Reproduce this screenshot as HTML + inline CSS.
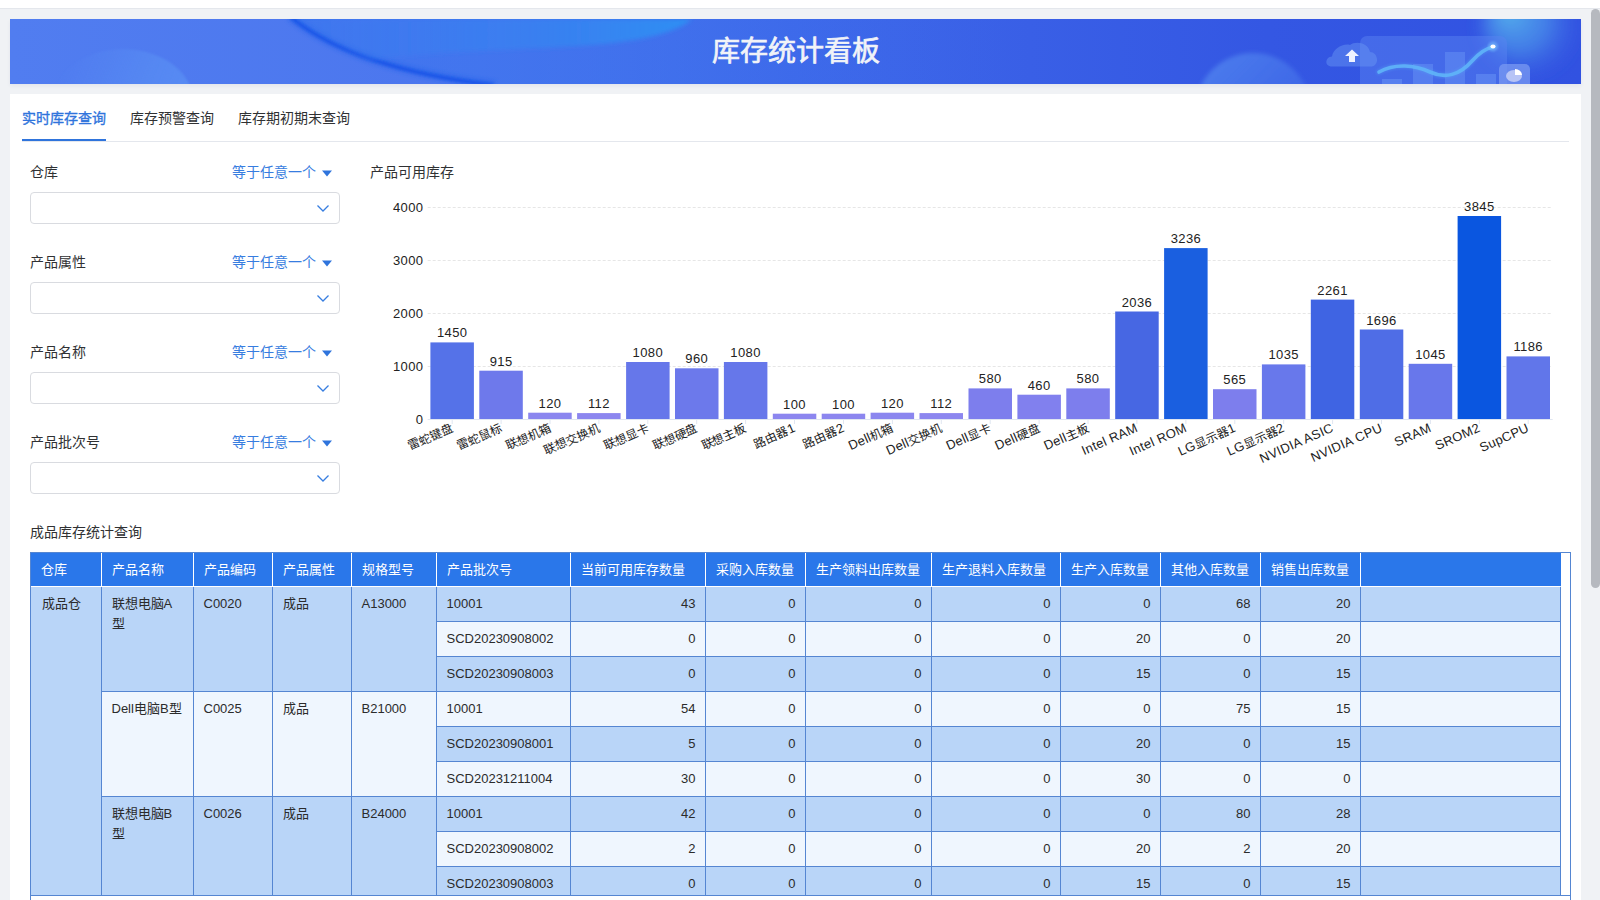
<!DOCTYPE html>
<html lang="zh-CN"><head><meta charset="utf-8"><title>库存统计看板</title>
<style>
html,body{margin:0;padding:0;}
body{width:1600px;height:900px;overflow:hidden;position:relative;background:#f0f2f5;font-family:"Liberation Sans", sans-serif;color:#303133;}
.abs{position:absolute;}
.c{position:absolute;box-sizing:border-box;font-size:13px;color:#2b2b2b;line-height:20px;padding:0 10px;}
.c.middle{display:flex;align-items:center;}
.c.right{justify-content:flex-end;}
.c.top{padding-top:8px;}
.h{position:absolute;box-sizing:border-box;background:#2a77ea;color:#fff;font-size:13px;padding:0 10px 2px 10px;display:flex;align-items:center;}
.lbl{position:absolute;font-size:14px;line-height:20px;color:#303133;}
.op{position:absolute;font-size:14px;line-height:20px;color:#377de0;}
.inp{position:absolute;width:310px;height:32px;box-sizing:border-box;border:1px solid #d9dbe0;border-radius:4px;background:#fff;}
</style></head>
<body>
<div class="abs" style="left:0;top:0;width:1600px;height:8px;background:#fff;border-bottom:1px solid #e4e7ec;"></div>
<div class="abs" id="banner" style="left:10px;top:19px;width:1571px;height:65px;overflow:hidden;box-shadow:0 2px 4px rgba(30,40,80,0.06);background:linear-gradient(90deg,#517df0 0%,#4470eb 40%,#3460e6 65%,#2f56e0 100%);">
  <svg width="1571" height="65" style="position:absolute;left:0;top:0">
<defs>
<linearGradient id="bg" x1="0" x2="1" y1="0" y2="0">
<stop offset="0" stop-color="#517df0"/><stop offset="0.3" stop-color="#4b76ee"/><stop offset="0.5" stop-color="#3e67e9"/><stop offset="0.8" stop-color="#3457e3"/><stop offset="1" stop-color="#3152e1"/>
</linearGradient>
<radialGradient id="g1" cx="0.5" cy="0.5" r="0.5"><stop offset="0" stop-color="#36a0f5" stop-opacity="0.9"/><stop offset="1" stop-color="#36a0f5" stop-opacity="0"/></radialGradient>
<radialGradient id="g2" cx="0.5" cy="0.5" r="0.5"><stop offset="0" stop-color="#5aa8f0" stop-opacity="0.95"/><stop offset="0.6" stop-color="#4a8cec" stop-opacity="0.4"/><stop offset="1" stop-color="#3a70e8" stop-opacity="0"/></radialGradient>
<linearGradient id="lc" x1="0" x2="1" y1="0" y2="0.3"><stop offset="0.1" stop-color="#5a90f4" stop-opacity="0"/><stop offset="0.7" stop-color="#5a90f4" stop-opacity="0.8"/><stop offset="1" stop-color="#5a90f4" stop-opacity="1"/></linearGradient>
<linearGradient id="ell" x1="0" x2="1" y1="0" y2="0"><stop offset="0" stop-color="#3b74ee" stop-opacity="0.7"/><stop offset="0.5" stop-color="#3b74ee" stop-opacity="0.4"/><stop offset="1" stop-color="#3b74ee" stop-opacity="0"/></linearGradient>
<filter id="bl2"><feGaussianBlur stdDeviation="2"/></filter>
<filter id="bl1"><feGaussianBlur stdDeviation="0.8"/></filter>
<filter id="bl6"><feGaussianBlur stdDeviation="6"/></filter>
</defs>
<rect width="1571" height="65" fill="url(#bg)"/>
<path d="M280 -2 Q 345 50 485 66 L 1000 66 L 1000 -2 Z" fill="url(#ell)"/>
<path d="M280 -2 Q 345 50 485 66" fill="none" stroke="#1f5ae8" stroke-width="7" filter="url(#bl2)" opacity="0.6"/>
<path d="M281 -2 Q 343 49 482 66" fill="none" stroke="#1a55e8" stroke-width="3" filter="url(#bl1)" opacity="0.9"/>
<linearGradient id="gl" gradientUnits="userSpaceOnUse" x1="300" x2="690" y1="0" y2="0"><stop offset="0" stop-color="#3a7cf0" stop-opacity="0.2"/><stop offset="0.6" stop-color="#3388f2" stop-opacity="0.6"/><stop offset="1" stop-color="#2d92f4" stop-opacity="0.95"/></linearGradient>
<path d="M284 0 L 682 0 C 668 12, 640 22, 570 27 C 480 32, 420 33, 360 41 Q 318 22 284 0 Z" fill="url(#gl)" filter="url(#bl2)"/>
<ellipse cx="113" cy="82" rx="70" ry="52" fill="url(#lc)" opacity="0.75" filter="url(#bl1)"/>
<linearGradient id="sc" x1="0" y1="0" x2="1" y2="1"><stop offset="0" stop-color="#4f82ee" stop-opacity="0.95"/><stop offset="0.6" stop-color="#4a7aec" stop-opacity="0.5"/><stop offset="1" stop-color="#4a7aec" stop-opacity="0"/></linearGradient>
<circle cx="1243" cy="92" r="58" fill="url(#sc)" filter="url(#bl2)"/>
<radialGradient id="g3" cx="0.5" cy="0.5" r="0.5" fx="0.3" fy="0.35"><stop offset="0" stop-color="#55b2ec" stop-opacity="1"/><stop offset="0.55" stop-color="#4a8fea" stop-opacity="0.7"/><stop offset="1" stop-color="#3a60e4" stop-opacity="0"/></radialGradient>
<circle cx="1518" cy="8" r="55" fill="url(#g3)" filter="url(#bl6)"/>
<g>
<rect x="1350" y="17" width="147" height="60" rx="7" fill="#5a86f2" opacity="0.45"/>
<rect x="1372" y="60" width="20" height="10" fill="#6a96f6" opacity="0.5"/>
<rect x="1403" y="45" width="20" height="25" fill="#6a96f6" opacity="0.45"/>
<rect x="1435" y="33" width="20" height="37" fill="#6a96f6" opacity="0.45"/>
<rect x="1466" y="55" width="20" height="15" fill="#6a96f6" opacity="0.5"/>
<path d="M1369 53 C 1385 44, 1405 46, 1420 53 C 1435 60, 1450 56, 1462 42 C 1470 33, 1478 29, 1483 28" fill="none" stroke="#5ab0f7" stroke-width="6" opacity="0.25" stroke-linecap="round" filter="url(#bl1)"/>
<path d="M1369 53 C 1385 44, 1405 46, 1420 53 C 1435 60, 1450 56, 1462 42 C 1470 33, 1478 29, 1483 28" fill="none" stroke="#5fb4f8" stroke-width="3.6" opacity="0.9" stroke-linecap="round"/>
<circle cx="1483" cy="27.5" r="5" fill="#7cc4ff" opacity="0.5" filter="url(#bl1)"/>
<ellipse cx="1483" cy="27.5" rx="2.6" ry="2" fill="#fff"/>
<path d="M1322 47.5 C 1314 47.5 1315 38 1322 37.5 C 1323 30 1333 24 1340 26 C 1345 22 1358 23 1360 33 C 1368 33 1370 46 1362 47.5 Z" fill="#6a9af4" opacity="0.45"/>
<path d="M1342 30.5 L1349 37 L1345 37 L1345 43 L1339 43 L1339 37 L1335 37 Z" fill="#eef2ff"/>
<rect x="1489" y="45" width="31" height="25" rx="5" fill="#7a9af2" opacity="0.75"/>
<ellipse cx="1504" cy="57" rx="8" ry="6" fill="#b7c4f6"/>
<path d="M1505 50 A 7 6 0 0 1 1512 56 L1505 56 Z" fill="#fff"/>
</g>
</svg>
  <div class="abs" style="left:0;top:0;width:100%;height:100%;font-size:28px;font-weight:400;color:#f1f3f8;-webkit-text-stroke:0.7px #f1f3f8;text-align:center;line-height:65px;">库存统计看板</div>
</div>
<div class="abs" id="card" style="left:10px;top:94px;width:1571px;height:820px;background:#fff;"></div>
<div class="abs" style="left:1591px;top:9px;width:9px;height:579px;background:#b6b9bf;border-radius:5px;"></div>

<div class="abs" style="left:22px;top:108px;font-size:14px;line-height:20px;color:#2f74dc;-webkit-text-stroke:0.35px #2f74dc;">实时库存查询</div>
<div class="abs" style="left:130px;top:108px;font-size:14px;line-height:20px;color:#303133;">库存预警查询</div>
<div class="abs" style="left:238px;top:108px;font-size:14px;line-height:20px;color:#303133;">库存期初期末查询</div>
<div class="abs" style="left:22px;top:141px;width:1547px;height:1px;background:#e4e7ed;"></div>
<div class="abs" style="left:22px;top:139px;width:84px;height:2px;background:#2f74dc;"></div>


<div class="lbl" style="left:30px;top:162px">仓库</div>
<div class="op" style="left:232px;top:162px">等于任意一个</div>
<svg style="position:absolute;left:321px;top:170px" width="12" height="8"><path d="M1 0.5 L11 0.5 L6 6.5 Z" fill="#2f74dc"/></svg>
<div class="inp" style="left:30px;top:192px"></div>
<svg style="position:absolute;left:316px;top:204px" width="14" height="10"><path d="M1.5 1.5 L7 7 L12.5 1.5" fill="none" stroke="#377de0" stroke-width="1.3"/></svg>

<div class="lbl" style="left:30px;top:252px">产品属性</div>
<div class="op" style="left:232px;top:252px">等于任意一个</div>
<svg style="position:absolute;left:321px;top:260px" width="12" height="8"><path d="M1 0.5 L11 0.5 L6 6.5 Z" fill="#2f74dc"/></svg>
<div class="inp" style="left:30px;top:282px"></div>
<svg style="position:absolute;left:316px;top:294px" width="14" height="10"><path d="M1.5 1.5 L7 7 L12.5 1.5" fill="none" stroke="#377de0" stroke-width="1.3"/></svg>

<div class="lbl" style="left:30px;top:342px">产品名称</div>
<div class="op" style="left:232px;top:342px">等于任意一个</div>
<svg style="position:absolute;left:321px;top:350px" width="12" height="8"><path d="M1 0.5 L11 0.5 L6 6.5 Z" fill="#2f74dc"/></svg>
<div class="inp" style="left:30px;top:372px"></div>
<svg style="position:absolute;left:316px;top:384px" width="14" height="10"><path d="M1.5 1.5 L7 7 L12.5 1.5" fill="none" stroke="#377de0" stroke-width="1.3"/></svg>

<div class="lbl" style="left:30px;top:432px">产品批次号</div>
<div class="op" style="left:232px;top:432px">等于任意一个</div>
<svg style="position:absolute;left:321px;top:440px" width="12" height="8"><path d="M1 0.5 L11 0.5 L6 6.5 Z" fill="#2f74dc"/></svg>
<div class="inp" style="left:30px;top:462px"></div>
<svg style="position:absolute;left:316px;top:474px" width="14" height="10"><path d="M1.5 1.5 L7 7 L12.5 1.5" fill="none" stroke="#377de0" stroke-width="1.3"/></svg>


<div class="abs" style="left:370px;top:162px;font-size:14px;line-height:20px;color:#303133;">产品可用库存</div>
<div class="abs" style="left:0;top:0;width:1600px;height:900px;font-family:"Liberation Sans", sans-serif;">
<svg width="1600" height="900" style="position:absolute;left:0;top:0">
<line x1="427.7" x2="1552.7" y1="366.5" y2="366.5" stroke="#e6e6e6" stroke-width="1" stroke-dasharray="3 2"/>
<line x1="427.7" x2="1552.7" y1="313.5" y2="313.5" stroke="#e6e6e6" stroke-width="1" stroke-dasharray="3 2"/>
<line x1="427.7" x2="1552.7" y1="260.5" y2="260.5" stroke="#e6e6e6" stroke-width="1" stroke-dasharray="3 2"/>
<line x1="427.7" x2="1552.7" y1="207.5" y2="207.5" stroke="#e6e6e6" stroke-width="1" stroke-dasharray="3 2"/>
<text x="423.5" y="423.5" text-anchor="end" font-size="13" letter-spacing="0.4" fill="#222">0</text>
<text x="423.5" y="370.7" text-anchor="end" font-size="13" letter-spacing="0.4" fill="#222">1000</text>
<text x="423.5" y="317.9" text-anchor="end" font-size="13" letter-spacing="0.4" fill="#222">2000</text>
<text x="423.5" y="265.1" text-anchor="end" font-size="13" letter-spacing="0.4" fill="#222">3000</text>
<text x="423.5" y="212.3" text-anchor="end" font-size="13" letter-spacing="0.4" fill="#222">4000</text>
<rect x="430.4" y="342.4" width="43.5" height="76.6" fill="#5572e8"/>
<text x="452.2" y="337.4" text-anchor="middle" font-size="13" letter-spacing="0.4" fill="#222">1450</text>
<rect x="479.3" y="370.7" width="43.5" height="48.3" fill="#6e79eb"/>
<text x="501.1" y="365.7" text-anchor="middle" font-size="13" letter-spacing="0.4" fill="#222">915</text>
<rect x="528.2" y="412.7" width="43.5" height="6.3" fill="#8b86ef"/>
<text x="550.0" y="407.7" text-anchor="middle" font-size="13" letter-spacing="0.4" fill="#222">120</text>
<rect x="577.1" y="413.1" width="43.5" height="5.9" fill="#8c86ef"/>
<text x="598.9" y="408.1" text-anchor="middle" font-size="13" letter-spacing="0.4" fill="#222">112</text>
<rect x="626.1" y="362.0" width="43.5" height="57.0" fill="#6677ea"/>
<text x="647.8" y="357.0" text-anchor="middle" font-size="13" letter-spacing="0.4" fill="#222">1080</text>
<rect x="675.0" y="368.3" width="43.5" height="50.7" fill="#6c79eb"/>
<text x="696.7" y="363.3" text-anchor="middle" font-size="13" letter-spacing="0.4" fill="#222">960</text>
<rect x="723.9" y="362.0" width="43.5" height="57.0" fill="#6677ea"/>
<text x="745.6" y="357.0" text-anchor="middle" font-size="13" letter-spacing="0.4" fill="#222">1080</text>
<rect x="772.8" y="413.7" width="43.5" height="5.3" fill="#8c86ef"/>
<text x="794.5" y="408.7" text-anchor="middle" font-size="13" letter-spacing="0.4" fill="#222">100</text>
<rect x="821.7" y="413.7" width="43.5" height="5.3" fill="#8c86ef"/>
<text x="843.5" y="408.7" text-anchor="middle" font-size="13" letter-spacing="0.4" fill="#222">100</text>
<rect x="870.6" y="412.7" width="43.5" height="6.3" fill="#8b86ef"/>
<text x="892.4" y="407.7" text-anchor="middle" font-size="13" letter-spacing="0.4" fill="#222">120</text>
<rect x="919.5" y="413.1" width="43.5" height="5.9" fill="#8c86ef"/>
<text x="941.3" y="408.1" text-anchor="middle" font-size="13" letter-spacing="0.4" fill="#222">112</text>
<rect x="968.5" y="388.4" width="43.5" height="30.6" fill="#7d7eed"/>
<text x="990.2" y="383.4" text-anchor="middle" font-size="13" letter-spacing="0.4" fill="#222">580</text>
<rect x="1017.4" y="394.7" width="43.5" height="24.3" fill="#8180ee"/>
<text x="1039.1" y="389.7" text-anchor="middle" font-size="13" letter-spacing="0.4" fill="#222">460</text>
<rect x="1066.3" y="388.4" width="43.5" height="30.6" fill="#7d7eed"/>
<text x="1088.0" y="383.4" text-anchor="middle" font-size="13" letter-spacing="0.4" fill="#222">580</text>
<rect x="1115.2" y="311.5" width="43.5" height="107.5" fill="#4767e3"/>
<text x="1136.9" y="306.5" text-anchor="middle" font-size="13" letter-spacing="0.4" fill="#222">2036</text>
<rect x="1164.1" y="248.1" width="43.5" height="170.9" fill="#1a5fe0"/>
<text x="1185.9" y="243.1" text-anchor="middle" font-size="13" letter-spacing="0.4" fill="#222">3236</text>
<rect x="1213.0" y="389.2" width="43.5" height="29.8" fill="#7d7eed"/>
<text x="1234.8" y="384.2" text-anchor="middle" font-size="13" letter-spacing="0.4" fill="#222">565</text>
<rect x="1261.9" y="364.4" width="43.5" height="54.6" fill="#6878eb"/>
<text x="1283.7" y="359.4" text-anchor="middle" font-size="13" letter-spacing="0.4" fill="#222">1035</text>
<rect x="1310.8" y="299.6" width="43.5" height="119.4" fill="#3f64e3"/>
<text x="1332.6" y="294.6" text-anchor="middle" font-size="13" letter-spacing="0.4" fill="#222">2261</text>
<rect x="1359.8" y="329.5" width="43.5" height="89.5" fill="#4f6de6"/>
<text x="1381.5" y="324.5" text-anchor="middle" font-size="13" letter-spacing="0.4" fill="#222">1696</text>
<rect x="1408.7" y="363.8" width="43.5" height="55.2" fill="#6877eb"/>
<text x="1430.4" y="358.8" text-anchor="middle" font-size="13" letter-spacing="0.4" fill="#222">1045</text>
<rect x="1457.6" y="216.0" width="43.5" height="203.0" fill="#0a56e0"/>
<text x="1479.3" y="211.0" text-anchor="middle" font-size="13" letter-spacing="0.4" fill="#222">3845</text>
<rect x="1506.5" y="356.4" width="43.5" height="62.6" fill="#6176ea"/>
<text x="1528.2" y="351.4" text-anchor="middle" font-size="13" letter-spacing="0.4" fill="#222">1186</text>
<line x1="427.7" x2="1552.7" y1="419.5" y2="419.5" stroke="#e0e6f1" stroke-width="1"/>
<line x1="452.2" x2="452.2" y1="419.0" y2="424.0" stroke="#e0e6f1" stroke-width="1"/>
<text transform="translate(452.2,427.0) rotate(-24)" text-anchor="end" dy="0.36em" font-size="12" fill="#222">雷蛇键盘</text>
<line x1="501.1" x2="501.1" y1="419.0" y2="424.0" stroke="#e0e6f1" stroke-width="1"/>
<text transform="translate(501.1,427.0) rotate(-24)" text-anchor="end" dy="0.36em" font-size="12" fill="#222">雷蛇鼠标</text>
<line x1="550.0" x2="550.0" y1="419.0" y2="424.0" stroke="#e0e6f1" stroke-width="1"/>
<text transform="translate(550.0,427.0) rotate(-24)" text-anchor="end" dy="0.36em" font-size="12" fill="#222">联想机箱</text>
<line x1="598.9" x2="598.9" y1="419.0" y2="424.0" stroke="#e0e6f1" stroke-width="1"/>
<text transform="translate(598.9,427.0) rotate(-24)" text-anchor="end" dy="0.36em" font-size="12" fill="#222">联想交换机</text>
<line x1="647.8" x2="647.8" y1="419.0" y2="424.0" stroke="#e0e6f1" stroke-width="1"/>
<text transform="translate(647.8,427.0) rotate(-24)" text-anchor="end" dy="0.36em" font-size="12" fill="#222">联想显卡</text>
<line x1="696.7" x2="696.7" y1="419.0" y2="424.0" stroke="#e0e6f1" stroke-width="1"/>
<text transform="translate(696.7,427.0) rotate(-24)" text-anchor="end" dy="0.36em" font-size="12" fill="#222">联想硬盘</text>
<line x1="745.6" x2="745.6" y1="419.0" y2="424.0" stroke="#e0e6f1" stroke-width="1"/>
<text transform="translate(745.6,427.0) rotate(-24)" text-anchor="end" dy="0.36em" font-size="12" fill="#222">联想主板</text>
<line x1="794.5" x2="794.5" y1="419.0" y2="424.0" stroke="#e0e6f1" stroke-width="1"/>
<text transform="translate(794.5,427.0) rotate(-24)" text-anchor="end" dy="0.36em" font-size="12" fill="#222">路由器<tspan font-size="13" letter-spacing="0.3">1</tspan></text>
<line x1="843.5" x2="843.5" y1="419.0" y2="424.0" stroke="#e0e6f1" stroke-width="1"/>
<text transform="translate(843.5,427.0) rotate(-24)" text-anchor="end" dy="0.36em" font-size="12" fill="#222">路由器<tspan font-size="13" letter-spacing="0.3">2</tspan></text>
<line x1="892.4" x2="892.4" y1="419.0" y2="424.0" stroke="#e0e6f1" stroke-width="1"/>
<text transform="translate(892.4,427.0) rotate(-24)" text-anchor="end" dy="0.36em" font-size="12" fill="#222"><tspan font-size="13" letter-spacing="0.3">Dell</tspan>机箱</text>
<line x1="941.3" x2="941.3" y1="419.0" y2="424.0" stroke="#e0e6f1" stroke-width="1"/>
<text transform="translate(941.3,427.0) rotate(-24)" text-anchor="end" dy="0.36em" font-size="12" fill="#222"><tspan font-size="13" letter-spacing="0.3">Dell</tspan>交换机</text>
<line x1="990.2" x2="990.2" y1="419.0" y2="424.0" stroke="#e0e6f1" stroke-width="1"/>
<text transform="translate(990.2,427.0) rotate(-24)" text-anchor="end" dy="0.36em" font-size="12" fill="#222"><tspan font-size="13" letter-spacing="0.3">Dell</tspan>显卡</text>
<line x1="1039.1" x2="1039.1" y1="419.0" y2="424.0" stroke="#e0e6f1" stroke-width="1"/>
<text transform="translate(1039.1,427.0) rotate(-24)" text-anchor="end" dy="0.36em" font-size="12" fill="#222"><tspan font-size="13" letter-spacing="0.3">Dell</tspan>硬盘</text>
<line x1="1088.0" x2="1088.0" y1="419.0" y2="424.0" stroke="#e0e6f1" stroke-width="1"/>
<text transform="translate(1088.0,427.0) rotate(-24)" text-anchor="end" dy="0.36em" font-size="12" fill="#222"><tspan font-size="13" letter-spacing="0.3">Dell</tspan>主板</text>
<line x1="1136.9" x2="1136.9" y1="419.0" y2="424.0" stroke="#e0e6f1" stroke-width="1"/>
<text transform="translate(1136.9,427.0) rotate(-24)" text-anchor="end" dy="0.36em" font-size="12" fill="#222"><tspan font-size="13" letter-spacing="0.3">Intel RAM</tspan></text>
<line x1="1185.9" x2="1185.9" y1="419.0" y2="424.0" stroke="#e0e6f1" stroke-width="1"/>
<text transform="translate(1185.9,427.0) rotate(-24)" text-anchor="end" dy="0.36em" font-size="12" fill="#222"><tspan font-size="13" letter-spacing="0.3">Intel ROM</tspan></text>
<line x1="1234.8" x2="1234.8" y1="419.0" y2="424.0" stroke="#e0e6f1" stroke-width="1"/>
<text transform="translate(1234.8,427.0) rotate(-24)" text-anchor="end" dy="0.36em" font-size="12" fill="#222"><tspan font-size="13" letter-spacing="0.3">LG</tspan>显示器<tspan font-size="13" letter-spacing="0.3">1</tspan></text>
<line x1="1283.7" x2="1283.7" y1="419.0" y2="424.0" stroke="#e0e6f1" stroke-width="1"/>
<text transform="translate(1283.7,427.0) rotate(-24)" text-anchor="end" dy="0.36em" font-size="12" fill="#222"><tspan font-size="13" letter-spacing="0.3">LG</tspan>显示器<tspan font-size="13" letter-spacing="0.3">2</tspan></text>
<line x1="1332.6" x2="1332.6" y1="419.0" y2="424.0" stroke="#e0e6f1" stroke-width="1"/>
<text transform="translate(1332.6,427.0) rotate(-24)" text-anchor="end" dy="0.36em" font-size="12" fill="#222"><tspan font-size="13" letter-spacing="0.3">NVIDIA ASIC</tspan></text>
<line x1="1381.5" x2="1381.5" y1="419.0" y2="424.0" stroke="#e0e6f1" stroke-width="1"/>
<text transform="translate(1381.5,427.0) rotate(-24)" text-anchor="end" dy="0.36em" font-size="12" fill="#222"><tspan font-size="13" letter-spacing="0.3">NVIDIA CPU</tspan></text>
<line x1="1430.4" x2="1430.4" y1="419.0" y2="424.0" stroke="#e0e6f1" stroke-width="1"/>
<text transform="translate(1430.4,427.0) rotate(-24)" text-anchor="end" dy="0.36em" font-size="12" fill="#222"><tspan font-size="13" letter-spacing="0.3">SRAM</tspan></text>
<line x1="1479.3" x2="1479.3" y1="419.0" y2="424.0" stroke="#e0e6f1" stroke-width="1"/>
<text transform="translate(1479.3,427.0) rotate(-24)" text-anchor="end" dy="0.36em" font-size="12" fill="#222"><tspan font-size="13" letter-spacing="0.3">SROM2</tspan></text>
<line x1="1528.2" x2="1528.2" y1="419.0" y2="424.0" stroke="#e0e6f1" stroke-width="1"/>
<text transform="translate(1528.2,427.0) rotate(-24)" text-anchor="end" dy="0.36em" font-size="12" fill="#222"><tspan font-size="13" letter-spacing="0.3">SupCPU</tspan></text>
</svg>
</div>

<div class="abs" style="left:30px;top:522px;font-size:14px;line-height:20px;color:#303133;">成品库存统计查询</div>
<div class="abs" style="left:30px;top:552px;width:1541px;height:400px;box-sizing:border-box;border:1px solid #5586d2;background:#fff;"></div>
<div class="abs" style="left:0;top:0;width:1600px;height:895px;overflow:hidden;">
<div class="h" style="left:30.5px;top:552px;width:71.0px;height:34px;">仓库</div>
<div class="h" style="left:101.5px;top:552px;width:92.0px;height:34px;">产品名称</div>
<div class="h" style="left:193.5px;top:552px;width:79.0px;height:34px;">产品编码</div>
<div class="h" style="left:272.5px;top:552px;width:79.0px;height:34px;">产品属性</div>
<div class="h" style="left:351.5px;top:552px;width:85.0px;height:34px;">规格型号</div>
<div class="h" style="left:436.5px;top:552px;width:134.0px;height:34px;">产品批次号</div>
<div class="h" style="left:570.5px;top:552px;width:135.0px;height:34px;">当前可用库存数量</div>
<div class="h" style="left:705.5px;top:552px;width:100.0px;height:34px;">采购入库数量</div>
<div class="h" style="left:805.5px;top:552px;width:126.0px;height:34px;">生产领料出库数量</div>
<div class="h" style="left:931.5px;top:552px;width:129.0px;height:34px;">生产退料入库数量</div>
<div class="h" style="left:1060.5px;top:552px;width:100.0px;height:34px;">生产入库数量</div>
<div class="h" style="left:1160.5px;top:552px;width:100.0px;height:34px;">其他入库数量</div>
<div class="h" style="left:1260.5px;top:552px;width:100.0px;height:34px;">销售出库数量</div>
<div class="h" style="left:1360.5px;top:552px;width:200.0px;height:34px;"></div>
<div class="c left top" style="left:101.5px;top:586px;width:92.0px;height:105px;background:#b9d5f8;">联想电脑A<br>型</div>
<div class="c left top" style="left:193.5px;top:586px;width:79.0px;height:105px;background:#b9d5f8;">C0020</div>
<div class="c left top" style="left:272.5px;top:586px;width:79.0px;height:105px;background:#b9d5f8;">成品</div>
<div class="c left top" style="left:351.5px;top:586px;width:85.0px;height:105px;background:#b9d5f8;">A13000</div>
<div class="c left middle" style="left:436.5px;top:586px;width:134.0px;height:35px;background:#b9d5f8;">10001</div>
<div class="c right middle" style="left:570.5px;top:586px;width:135.0px;height:35px;background:#b9d5f8;">43</div>
<div class="c right middle" style="left:705.5px;top:586px;width:100.0px;height:35px;background:#b9d5f8;">0</div>
<div class="c right middle" style="left:805.5px;top:586px;width:126.0px;height:35px;background:#b9d5f8;">0</div>
<div class="c right middle" style="left:931.5px;top:586px;width:129.0px;height:35px;background:#b9d5f8;">0</div>
<div class="c right middle" style="left:1060.5px;top:586px;width:100.0px;height:35px;background:#b9d5f8;">0</div>
<div class="c right middle" style="left:1160.5px;top:586px;width:100.0px;height:35px;background:#b9d5f8;">68</div>
<div class="c right middle" style="left:1260.5px;top:586px;width:100.0px;height:35px;background:#b9d5f8;">20</div>
<div class="c left middle" style="left:1360.5px;top:586px;width:200.0px;height:35px;background:#b9d5f8;"></div>
<div class="c left middle" style="left:436.5px;top:621px;width:134.0px;height:35px;background:#eff6fe;">SCD20230908002</div>
<div class="c right middle" style="left:570.5px;top:621px;width:135.0px;height:35px;background:#eff6fe;">0</div>
<div class="c right middle" style="left:705.5px;top:621px;width:100.0px;height:35px;background:#eff6fe;">0</div>
<div class="c right middle" style="left:805.5px;top:621px;width:126.0px;height:35px;background:#eff6fe;">0</div>
<div class="c right middle" style="left:931.5px;top:621px;width:129.0px;height:35px;background:#eff6fe;">0</div>
<div class="c right middle" style="left:1060.5px;top:621px;width:100.0px;height:35px;background:#eff6fe;">20</div>
<div class="c right middle" style="left:1160.5px;top:621px;width:100.0px;height:35px;background:#eff6fe;">0</div>
<div class="c right middle" style="left:1260.5px;top:621px;width:100.0px;height:35px;background:#eff6fe;">20</div>
<div class="c left middle" style="left:1360.5px;top:621px;width:200.0px;height:35px;background:#eff6fe;"></div>
<div class="c left middle" style="left:436.5px;top:656px;width:134.0px;height:35px;background:#b9d5f8;">SCD20230908003</div>
<div class="c right middle" style="left:570.5px;top:656px;width:135.0px;height:35px;background:#b9d5f8;">0</div>
<div class="c right middle" style="left:705.5px;top:656px;width:100.0px;height:35px;background:#b9d5f8;">0</div>
<div class="c right middle" style="left:805.5px;top:656px;width:126.0px;height:35px;background:#b9d5f8;">0</div>
<div class="c right middle" style="left:931.5px;top:656px;width:129.0px;height:35px;background:#b9d5f8;">0</div>
<div class="c right middle" style="left:1060.5px;top:656px;width:100.0px;height:35px;background:#b9d5f8;">15</div>
<div class="c right middle" style="left:1160.5px;top:656px;width:100.0px;height:35px;background:#b9d5f8;">0</div>
<div class="c right middle" style="left:1260.5px;top:656px;width:100.0px;height:35px;background:#b9d5f8;">15</div>
<div class="c left middle" style="left:1360.5px;top:656px;width:200.0px;height:35px;background:#b9d5f8;"></div>
<div class="c left top" style="left:101.5px;top:691px;width:92.0px;height:105px;background:#eff6fe;">Dell电脑B型</div>
<div class="c left top" style="left:193.5px;top:691px;width:79.0px;height:105px;background:#eff6fe;">C0025</div>
<div class="c left top" style="left:272.5px;top:691px;width:79.0px;height:105px;background:#eff6fe;">成品</div>
<div class="c left top" style="left:351.5px;top:691px;width:85.0px;height:105px;background:#eff6fe;">B21000</div>
<div class="c left middle" style="left:436.5px;top:691px;width:134.0px;height:35px;background:#eff6fe;">10001</div>
<div class="c right middle" style="left:570.5px;top:691px;width:135.0px;height:35px;background:#eff6fe;">54</div>
<div class="c right middle" style="left:705.5px;top:691px;width:100.0px;height:35px;background:#eff6fe;">0</div>
<div class="c right middle" style="left:805.5px;top:691px;width:126.0px;height:35px;background:#eff6fe;">0</div>
<div class="c right middle" style="left:931.5px;top:691px;width:129.0px;height:35px;background:#eff6fe;">0</div>
<div class="c right middle" style="left:1060.5px;top:691px;width:100.0px;height:35px;background:#eff6fe;">0</div>
<div class="c right middle" style="left:1160.5px;top:691px;width:100.0px;height:35px;background:#eff6fe;">75</div>
<div class="c right middle" style="left:1260.5px;top:691px;width:100.0px;height:35px;background:#eff6fe;">15</div>
<div class="c left middle" style="left:1360.5px;top:691px;width:200.0px;height:35px;background:#eff6fe;"></div>
<div class="c left middle" style="left:436.5px;top:726px;width:134.0px;height:35px;background:#b9d5f8;">SCD20230908001</div>
<div class="c right middle" style="left:570.5px;top:726px;width:135.0px;height:35px;background:#b9d5f8;">5</div>
<div class="c right middle" style="left:705.5px;top:726px;width:100.0px;height:35px;background:#b9d5f8;">0</div>
<div class="c right middle" style="left:805.5px;top:726px;width:126.0px;height:35px;background:#b9d5f8;">0</div>
<div class="c right middle" style="left:931.5px;top:726px;width:129.0px;height:35px;background:#b9d5f8;">0</div>
<div class="c right middle" style="left:1060.5px;top:726px;width:100.0px;height:35px;background:#b9d5f8;">20</div>
<div class="c right middle" style="left:1160.5px;top:726px;width:100.0px;height:35px;background:#b9d5f8;">0</div>
<div class="c right middle" style="left:1260.5px;top:726px;width:100.0px;height:35px;background:#b9d5f8;">15</div>
<div class="c left middle" style="left:1360.5px;top:726px;width:200.0px;height:35px;background:#b9d5f8;"></div>
<div class="c left middle" style="left:436.5px;top:761px;width:134.0px;height:35px;background:#eff6fe;">SCD20231211004</div>
<div class="c right middle" style="left:570.5px;top:761px;width:135.0px;height:35px;background:#eff6fe;">30</div>
<div class="c right middle" style="left:705.5px;top:761px;width:100.0px;height:35px;background:#eff6fe;">0</div>
<div class="c right middle" style="left:805.5px;top:761px;width:126.0px;height:35px;background:#eff6fe;">0</div>
<div class="c right middle" style="left:931.5px;top:761px;width:129.0px;height:35px;background:#eff6fe;">0</div>
<div class="c right middle" style="left:1060.5px;top:761px;width:100.0px;height:35px;background:#eff6fe;">30</div>
<div class="c right middle" style="left:1160.5px;top:761px;width:100.0px;height:35px;background:#eff6fe;">0</div>
<div class="c right middle" style="left:1260.5px;top:761px;width:100.0px;height:35px;background:#eff6fe;">0</div>
<div class="c left middle" style="left:1360.5px;top:761px;width:200.0px;height:35px;background:#eff6fe;"></div>
<div class="c left top" style="left:101.5px;top:796px;width:92.0px;height:105px;background:#b9d5f8;">联想电脑B<br>型</div>
<div class="c left top" style="left:193.5px;top:796px;width:79.0px;height:105px;background:#b9d5f8;">C0026</div>
<div class="c left top" style="left:272.5px;top:796px;width:79.0px;height:105px;background:#b9d5f8;">成品</div>
<div class="c left top" style="left:351.5px;top:796px;width:85.0px;height:105px;background:#b9d5f8;">B24000</div>
<div class="c left middle" style="left:436.5px;top:796px;width:134.0px;height:35px;background:#b9d5f8;">10001</div>
<div class="c right middle" style="left:570.5px;top:796px;width:135.0px;height:35px;background:#b9d5f8;">42</div>
<div class="c right middle" style="left:705.5px;top:796px;width:100.0px;height:35px;background:#b9d5f8;">0</div>
<div class="c right middle" style="left:805.5px;top:796px;width:126.0px;height:35px;background:#b9d5f8;">0</div>
<div class="c right middle" style="left:931.5px;top:796px;width:129.0px;height:35px;background:#b9d5f8;">0</div>
<div class="c right middle" style="left:1060.5px;top:796px;width:100.0px;height:35px;background:#b9d5f8;">0</div>
<div class="c right middle" style="left:1160.5px;top:796px;width:100.0px;height:35px;background:#b9d5f8;">80</div>
<div class="c right middle" style="left:1260.5px;top:796px;width:100.0px;height:35px;background:#b9d5f8;">28</div>
<div class="c left middle" style="left:1360.5px;top:796px;width:200.0px;height:35px;background:#b9d5f8;"></div>
<div class="c left middle" style="left:436.5px;top:831px;width:134.0px;height:35px;background:#eff6fe;">SCD20230908002</div>
<div class="c right middle" style="left:570.5px;top:831px;width:135.0px;height:35px;background:#eff6fe;">2</div>
<div class="c right middle" style="left:705.5px;top:831px;width:100.0px;height:35px;background:#eff6fe;">0</div>
<div class="c right middle" style="left:805.5px;top:831px;width:126.0px;height:35px;background:#eff6fe;">0</div>
<div class="c right middle" style="left:931.5px;top:831px;width:129.0px;height:35px;background:#eff6fe;">0</div>
<div class="c right middle" style="left:1060.5px;top:831px;width:100.0px;height:35px;background:#eff6fe;">20</div>
<div class="c right middle" style="left:1160.5px;top:831px;width:100.0px;height:35px;background:#eff6fe;">2</div>
<div class="c right middle" style="left:1260.5px;top:831px;width:100.0px;height:35px;background:#eff6fe;">20</div>
<div class="c left middle" style="left:1360.5px;top:831px;width:200.0px;height:35px;background:#eff6fe;"></div>
<div class="c left middle" style="left:436.5px;top:866px;width:134.0px;height:35px;background:#b9d5f8;">SCD20230908003</div>
<div class="c right middle" style="left:570.5px;top:866px;width:135.0px;height:35px;background:#b9d5f8;">0</div>
<div class="c right middle" style="left:705.5px;top:866px;width:100.0px;height:35px;background:#b9d5f8;">0</div>
<div class="c right middle" style="left:805.5px;top:866px;width:126.0px;height:35px;background:#b9d5f8;">0</div>
<div class="c right middle" style="left:931.5px;top:866px;width:129.0px;height:35px;background:#b9d5f8;">0</div>
<div class="c right middle" style="left:1060.5px;top:866px;width:100.0px;height:35px;background:#b9d5f8;">15</div>
<div class="c right middle" style="left:1160.5px;top:866px;width:100.0px;height:35px;background:#b9d5f8;">0</div>
<div class="c right middle" style="left:1260.5px;top:866px;width:100.0px;height:35px;background:#b9d5f8;">15</div>
<div class="c left middle" style="left:1360.5px;top:866px;width:200.0px;height:35px;background:#b9d5f8;"></div>
<div class="c left top" style="left:30.5px;top:586px;width:71.0px;height:315px;background:#b9d5f8;padding-left:11px;">成品仓</div>
</div>
<svg width="1600" height="900" style="position:absolute;left:0;top:0">
<line x1="101.5" x2="101.5" y1="552" y2="586" stroke="#fff" stroke-width="1"/>
<line x1="193.5" x2="193.5" y1="552" y2="586" stroke="#fff" stroke-width="1"/>
<line x1="272.5" x2="272.5" y1="552" y2="586" stroke="#fff" stroke-width="1"/>
<line x1="351.5" x2="351.5" y1="552" y2="586" stroke="#fff" stroke-width="1"/>
<line x1="436.5" x2="436.5" y1="552" y2="586" stroke="#fff" stroke-width="1"/>
<line x1="570.5" x2="570.5" y1="552" y2="586" stroke="#fff" stroke-width="1"/>
<line x1="705.5" x2="705.5" y1="552" y2="586" stroke="#fff" stroke-width="1"/>
<line x1="805.5" x2="805.5" y1="552" y2="586" stroke="#fff" stroke-width="1"/>
<line x1="931.5" x2="931.5" y1="552" y2="586" stroke="#fff" stroke-width="1"/>
<line x1="1060.5" x2="1060.5" y1="552" y2="586" stroke="#fff" stroke-width="1"/>
<line x1="1160.5" x2="1160.5" y1="552" y2="586" stroke="#fff" stroke-width="1"/>
<line x1="1260.5" x2="1260.5" y1="552" y2="586" stroke="#fff" stroke-width="1"/>
<line x1="1360.5" x2="1360.5" y1="552" y2="586" stroke="#fff" stroke-width="1"/>
<line x1="30.5" x2="1560.5" y1="586.5" y2="586.5" stroke="#fff" stroke-width="1"/>
<line x1="30.5" x2="30.5" y1="587" y2="895.5" stroke="#5586d2" stroke-width="1"/>
<line x1="101.5" x2="101.5" y1="587" y2="895.5" stroke="#5586d2" stroke-width="1"/>
<line x1="193.5" x2="193.5" y1="587" y2="895.5" stroke="#5586d2" stroke-width="1"/>
<line x1="272.5" x2="272.5" y1="587" y2="895.5" stroke="#5586d2" stroke-width="1"/>
<line x1="351.5" x2="351.5" y1="587" y2="895.5" stroke="#5586d2" stroke-width="1"/>
<line x1="436.5" x2="436.5" y1="587" y2="895.5" stroke="#5586d2" stroke-width="1"/>
<line x1="570.5" x2="570.5" y1="587" y2="895.5" stroke="#5586d2" stroke-width="1"/>
<line x1="705.5" x2="705.5" y1="587" y2="895.5" stroke="#5586d2" stroke-width="1"/>
<line x1="805.5" x2="805.5" y1="587" y2="895.5" stroke="#5586d2" stroke-width="1"/>
<line x1="931.5" x2="931.5" y1="587" y2="895.5" stroke="#5586d2" stroke-width="1"/>
<line x1="1060.5" x2="1060.5" y1="587" y2="895.5" stroke="#5586d2" stroke-width="1"/>
<line x1="1160.5" x2="1160.5" y1="587" y2="895.5" stroke="#5586d2" stroke-width="1"/>
<line x1="1260.5" x2="1260.5" y1="587" y2="895.5" stroke="#5586d2" stroke-width="1"/>
<line x1="1360.5" x2="1360.5" y1="587" y2="895.5" stroke="#5586d2" stroke-width="1"/>
<line x1="1560.5" x2="1560.5" y1="587" y2="895.5" stroke="#5586d2" stroke-width="1"/>
<line x1="436.5" x2="1560.5" y1="621.5" y2="621.5" stroke="#5586d2" stroke-width="1"/>
<line x1="436.5" x2="1560.5" y1="656.5" y2="656.5" stroke="#5586d2" stroke-width="1"/>
<line x1="101.5" x2="1560.5" y1="691.5" y2="691.5" stroke="#5586d2" stroke-width="1"/>
<line x1="436.5" x2="1560.5" y1="726.5" y2="726.5" stroke="#5586d2" stroke-width="1"/>
<line x1="436.5" x2="1560.5" y1="761.5" y2="761.5" stroke="#5586d2" stroke-width="1"/>
<line x1="101.5" x2="1560.5" y1="796.5" y2="796.5" stroke="#5586d2" stroke-width="1"/>
<line x1="436.5" x2="1560.5" y1="831.5" y2="831.5" stroke="#5586d2" stroke-width="1"/>
<line x1="436.5" x2="1560.5" y1="866.5" y2="866.5" stroke="#5586d2" stroke-width="1"/>
<line x1="101.5" x2="1560.5" y1="901.5" y2="901.5" stroke="#5586d2" stroke-width="1"/>
<line x1="30" x2="1571" y1="895.5" y2="895.5" stroke="#5586d2" stroke-width="1"/>
<line x1="30.5" x2="30.5" y1="552" y2="900" stroke="#5586d2" stroke-width="1"/>
<line x1="1570.5" x2="1570.5" y1="552" y2="900" stroke="#5586d2" stroke-width="1"/>
<line x1="30" x2="1571" y1="552.5" y2="552.5" stroke="#5586d2" stroke-width="1"/>
</svg>
</body></html>
